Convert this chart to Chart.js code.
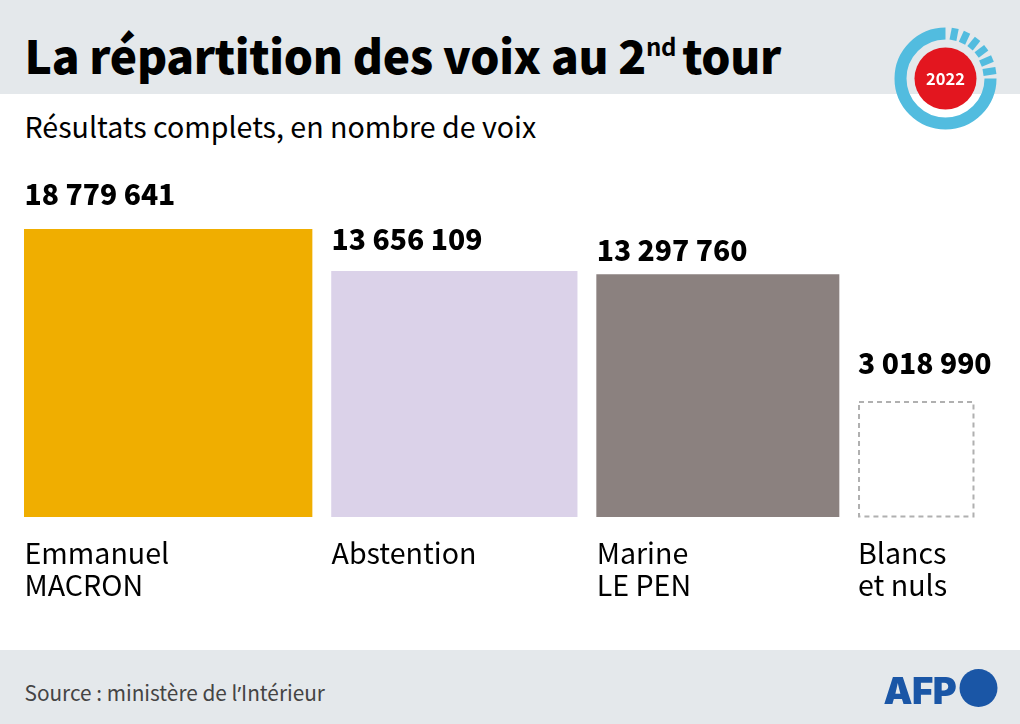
<!DOCTYPE html>
<html lang="fr">
<head>
<meta charset="utf-8">
<title>La répartition des voix au 2nd tour</title>
<script src="https://cdn.jsdelivr.net/npm/chart.js@4/dist/chart.umd.js"></script>
<style>
  html, body { margin: 0; padding: 0; background: #fff; }
  body { width: 1020px; height: 724px; position: relative; overflow: hidden; font-family: "Noto Sans CJK SC", sans-serif; color: #000; }
  .band { position: absolute; left: 0; width: 1020px; background: #e4e8eb; }
  .txt { position: absolute; white-space: nowrap; line-height: 1; }
  #title { left: 24.5px; top: 31px; font-size: 46px; font-weight: 900; letter-spacing: -0.35px; }
  #title sup { font-size: 24px; line-height: 0; position: relative; top: -2px; vertical-align: super; margin-right: 6px; font-weight: 700; }
  #subtitle { left: 24.5px; top: 111.5px; font-size: 28.6px; font-weight: 400; }
  #source { left: 24.5px; top: 682px; font-size: 20.8px; color: #444; }
  #source span { font-family: "Noto Sans"; }
  #afp { left: 883.5px; top: 668.5px; font: 900 36.5px Inter, sans-serif; color: #1a56a6; letter-spacing: -0.6px; }
  canvas { position: absolute; left: 0; top: 0; }
  svg { position: absolute; left: 0; top: 0; }
</style>
</head>
<body>
<div class="band" style="top:0;height:94px"></div>
<div class="band" style="top:650px;height:74px"></div>
<div class="txt" id="title">La répartition des voix au 2<sup>nd</sup>tour</div>
<div class="txt" id="subtitle">Résultats complets, en nombre de voix</div>
<div class="txt" id="source">Source : ministère de l<span>’</span>Intérieur</div>
<canvas id="chart" width="1020" height="724"></canvas>
<svg width="1020" height="724" id="logos"></svg>
<div class="txt" id="afp">AFP</div>
<script>
const categories = [["Emmanuel", "MACRON"], ["Abstention"], ["Marine", "LE PEN"], ["Blancs", "et nuls"]];
const voix = [18779641, 13656109, 13297760, 3018990];
const valueLabels = ["18 779 641", "13 656 109", "13 297 760", "3 018 990"];
const colors = ["#f0ae00", "#dbd2e9", "#8b817f", "#ffffff"];

// surfaces proportionnelles : le cote du carre = racine du nombre de voix
const cotes = voix.map(v => Math.sqrt(v));
const gap = 293;
const pxPerUnit = 288 / cotes[0];

let cursor = 0;
const centres = cotes.map(c => {
  const centre = cursor + c / 2;
  cursor += c + gap;
  return centre;
});
const xMax = cursor - gap;

// ecart entre le chiffre et le haut du carre, pris sur l'image
const labelGap = [24, 21, 14, 28];
const labelNudge = [0.5, 0, 0, -0.5];

const squareLabels = {
  id: "squareLabels",
  afterDatasetsDraw(chart) {
    const ctx = chart.ctx;
    ctx.save();
    ctx.textAlign = "left";
    ctx.textBaseline = "alphabetic";
    ctx.fillStyle = "#000";
    voix.forEach((v, i) => {
      const bar = chart.getDatasetMeta(i).data[0];
      const left = bar.x - bar.width / 2;
      if (i === 3) {
        ctx.save();
        ctx.strokeStyle = "#b0b0b0";
        ctx.lineWidth = 2;
        ctx.setLineDash([5, 4]);
        ctx.strokeRect(left + 0.5, bar.y + 0.5, bar.width - 1, bar.base - bar.y - 1);
        ctx.restore();
      }
      ctx.font = "900 28.3px 'Noto Sans CJK SC'";
      ctx.fillText(valueLabels[i], left + labelNudge[i], bar.y - labelGap[i]);
      ctx.font = "400 28.6px 'Noto Sans CJK SC'";
      categories[i].forEach((line, k) => {
        ctx.fillText(line, left + labelNudge[i], bar.base + 46.5 + k * 32);
      });
    });
    ctx.restore();
  }
};

new Chart(document.getElementById("chart"), {
  type: "bar",
  data: {
    datasets: voix.map((v, i) => ({
      data: [{ x: centres[i], y: cotes[i] }],
      backgroundColor: colors[i],
      barThickness: cotes[i] * pxPerUnit,
      grouped: false
    }))
  },
  options: {
    responsive: false,
    animation: false,
    layout: { padding: { left: 24, right: 46, top: 229, bottom: 207 } },
    plugins: { legend: { display: false }, tooltip: { enabled: false } },
    scales: {
      x: { type: "linear", min: 0, max: xMax, display: false, offset: false },
      y: { min: 0, max: cotes[0], display: false }
    }
  },
  plugins: [squareLabels]
});

// logo 2022 et rond AFP
const ticks = [11, 25, 39, 53, 67, 81];
document.getElementById("logos").innerHTML =
  `<g transform="translate(945.5 78.5)">
     <circle r="31" fill="#e3161f"/>
     <path d="M45 0 A45 45 0 1 1 0 -45" fill="none" stroke="#52bcdf" stroke-width="12"/>
     ${ticks.map(a => `<rect x="-3.5" y="-51" width="7" height="${a > 60 ? 13 : 12}" fill="#52bcdf" transform="rotate(${a})"/>`).join("")}
     <text y="6" text-anchor="middle" font-family="'Noto Sans CJK SC'" font-weight="700" font-size="16.5" fill="#fff">2022</text>
   </g>
   <circle cx="978.5" cy="688" r="19" fill="#1a56a6"/>`;
</script>
</body>
</html>
